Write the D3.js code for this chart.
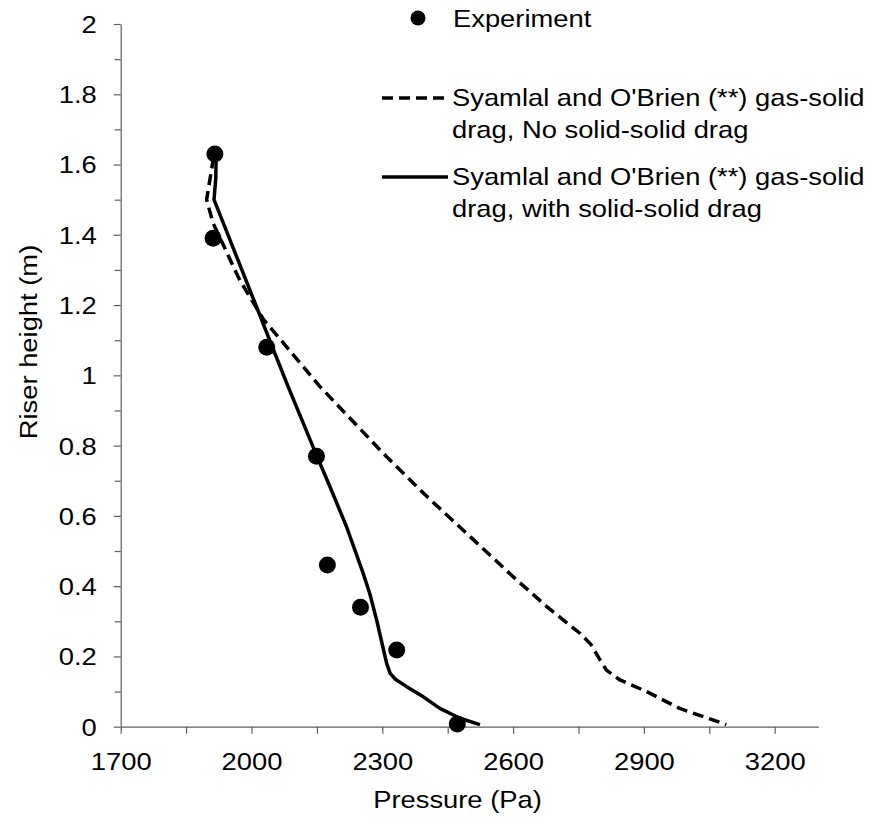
<!DOCTYPE html>
<html>
<head>
<meta charset="utf-8">
<script src="https://cdn.jsdelivr.net/npm/d3@7"></script>
<style>
  html, body { margin: 0; padding: 0; background: #fff; }
  svg { display: block; font-family: Arial, "Liberation Sans", sans-serif; }
</style>
</head>
<body>
<svg id="chart" width="871" height="820"></svg>
<script>
// Measured riser pressure profiles: pressure (Pa) vs. height (m)
const expPressure = [1916, 1912, 2035, 2149, 2174, 2250, 2333, 2472];
const expHeight   = [1.63, 1.39, 1.08, 0.77, 0.46, 0.34, 0.218, 0.008];

// Syamlal and O'Brien drag, no solid-solid drag (dashed)
const noSSPressure = [1913, 1905, 1897, 1912, 1973, 2027, 2157, 2310, 2405, 2485, 2600, 2677, 2753, 2778, 2797, 2814, 2845, 2906, 2982, 3089];
const noSSHeight   = [1.62, 1.56, 1.50, 1.433, 1.271, 1.16, 0.968, 0.768, 0.652, 0.56, 0.427, 0.342, 0.266, 0.235, 0.195, 0.161, 0.133, 0.100, 0.052, 0.006];

// Syamlal and O'Brien drag, with solid-solid drag (solid)
const withSSPressure = [1919, 1918, 1914, 2010, 2048, 2084, 2150, 2180, 2218, 2256, 2271, 2287, 2294, 2310, 2318, 2330, 2356, 2394, 2432, 2478, 2524];
const withSSHeight   = [1.63, 1.56, 1.50, 1.20, 1.08, 0.968, 0.77, 0.683, 0.569, 0.437, 0.38, 0.304, 0.266, 0.18, 0.152, 0.135, 0.114, 0.085, 0.052, 0.024, 0.006];

// Axis ticks
const xMajorTicks = [1700, 2000, 2300, 2600, 2900, 3200];
const xMinorTicks = [1850, 2150, 2450, 2750, 3050];
const yMajorTicks = [0, 0.2, 0.4, 0.6, 0.8, 1, 1.2, 1.4, 1.6, 1.8, 2];
const yMinorTicks = [0.1, 0.3, 0.5, 0.7, 0.9, 1.1, 1.3, 1.5, 1.7, 1.9];

const legendLabels = [
  ["Experiment"],
  ["Syamlal and O'Brien (**) gas-solid", "drag, No solid-solid drag"],
  ["Syamlal and O'Brien (**) gas-solid", "drag, with solid-solid drag"]
];

const svg = d3.select("#chart");
const plotLeft = 120.7, plotRight = 818.3, plotTop = 24, plotBottom = 726.7;
const x = d3.scaleLinear().domain([1700, 3300]).range([plotLeft, plotRight]);
const y = d3.scaleLinear().domain([0, 2]).range([plotBottom, plotTop]);

const axisColor = "#5e5e5e";
const sx = 1.14; // horizontal text stretch

function stretchText(sel, px, py, anchor) {
  sel.attr("x", 0).attr("y", 0)
     .attr("text-anchor", anchor || "start")
     .attr("transform", `translate(${px},${py}) scale(${sx},1)`);
  return sel;
}

// X axis (tick groups are already translated by the axis generator)
const xAxisG = svg.append("g").attr("transform", `translate(0,${plotBottom})`);
xAxisG.call(d3.axisBottom(x).tickValues(xMajorTicks).tickSize(7).tickSizeOuter(0).tickFormat(d3.format("d")));
xAxisG.append("g").call(d3.axisBottom(x).tickValues(xMinorTicks).tickSize(7).tickSizeOuter(0).tickFormat(""))
  .select(".domain").remove();
xAxisG.selectAll(".domain, line").attr("stroke", axisColor).attr("stroke-width", 1.2);
xAxisG.selectAll(".tick text").each(function() {
  const t = d3.select(this);
  t.attr("font-size", 24).attr("fill", "#000").attr("dy", null);
  stretchText(t, 0, 43.3, "middle");
});

// Y axis
const yAxisG = svg.append("g").attr("transform", `translate(${plotLeft},0)`);
yAxisG.call(d3.axisLeft(y).tickValues(yMajorTicks).tickSize(7).tickSizeOuter(0).tickFormat(d => String(+d.toFixed(1))));
yAxisG.append("g").call(d3.axisLeft(y).tickValues(yMinorTicks).tickSize(6).tickSizeOuter(0).tickFormat(""))
  .select(".domain").remove();
yAxisG.selectAll(".domain, line").attr("stroke", axisColor).attr("stroke-width", 1.2);
yAxisG.selectAll(".tick text").each(function() {
  const t = d3.select(this);
  t.attr("font-size", 24).attr("fill", "#000").attr("dy", "0.35em");
  stretchText(t, -24, 0, "end");
});

// Axis titles
stretchText(svg.append("text").text("Pressure (Pa)").attr("font-size", 24).attr("fill", "#000"),
  (plotLeft + plotRight) / 2 - 12, 808, "middle");
svg.append("text").text("Riser height (m)")
  .attr("font-size", 24).attr("fill", "#000").attr("text-anchor", "middle")
  .attr("transform", `translate(37,342) rotate(-90) scale(${sx},1)`);

// Lines
const line = d3.line().x(d => x(d[0])).y(d => y(d[1]));
const plot = svg.append("g");
plot.append("path")
  .datum(d3.zip(noSSPressure, noSSHeight))
  .attr("d", line).attr("fill", "none").attr("stroke", "#000")
  .attr("stroke-width", 3.5).attr("stroke-dasharray", "11,6").attr("stroke-linejoin", "round");
plot.append("path")
  .datum(d3.zip(withSSPressure, withSSHeight))
  .attr("d", line).attr("fill", "none").attr("stroke", "#000")
  .attr("stroke-width", 3.5).attr("stroke-linejoin", "round");

// Experimental points
plot.selectAll("circle.exp")
  .data(d3.zip(expPressure, expHeight))
  .join("circle").attr("class", "exp")
  .attr("cx", d => x(d[0])).attr("cy", d => y(d[1]))
  .attr("r", 8.5).attr("fill", "#000");

// Legend
const lg = svg.append("g");
lg.append("circle").attr("cx", 418).attr("cy", 18).attr("r", 7.5).attr("fill", "#000");
stretchText(lg.append("text").text(legendLabels[0][0]).attr("font-size", 24), 453, 27);

lg.append("line").attr("x1", 382).attr("x2", 448).attr("y1", 98).attr("y2", 98)
  .attr("stroke", "#000").attr("stroke-width", 3.5).attr("stroke-dasharray", "11,6");
legendLabels[1].forEach((s, i) =>
  stretchText(lg.append("text").text(s).attr("font-size", 24), 452, 106 + i * 32));

lg.append("line").attr("x1", 382).attr("x2", 448).attr("y1", 177).attr("y2", 177)
  .attr("stroke", "#000").attr("stroke-width", 3.5);
legendLabels[2].forEach((s, i) =>
  stretchText(lg.append("text").text(s).attr("font-size", 24), 452, 185 + i * 32));
</script>
</body>
</html>
